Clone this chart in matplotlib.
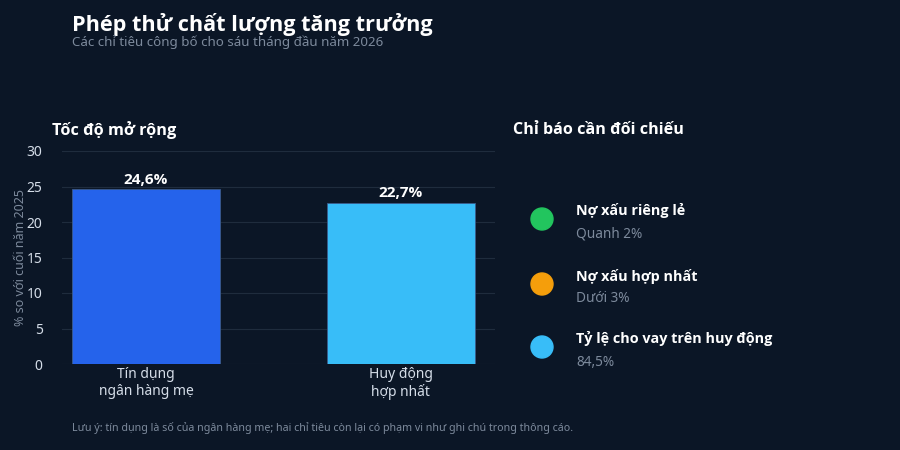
import matplotlib.pyplot as plt
from matplotlib.patches import Circle

plt.rcParams['font.family'] = ['Noto Sans', 'DejaVu Sans']
BOLD = ['Open Sans', 'DejaVu Sans']

categories = ["Tín dụng\nngân hàng mẹ", "Huy động\nhợp nhất"]
values = [24.6, 22.7]
value_labels = ["24,6%", "22,7%"]
bar_colors = ["#2563eb", "#38bdf8"]
yticks = [0, 5, 10, 15, 20, 25, 30]

ind_names = ["Nợ xấu riêng lẻ", "Nợ xấu hợp nhất", "Tỷ lệ cho vay trên huy động"]
ind_values = ["Quanh 2%", "Dưới 3%", "84,5%"]
ind_colors = ["#22c55e", "#f59e0b", "#38bdf8"]

bg = "#0b1626"
grid = "#1f2c3d"
muted = "#7d8a9c"

fig = plt.figure(figsize=(9, 4.5), dpi=100, facecolor=bg)

# bar panel
ax = fig.add_axes([62 / 900, 1 - 364 / 450, 433 / 900, 213 / 450], facecolor=bg)
x = list(range(len(categories)))
ax.bar(x, values, width=0.58, color=bar_colors, edgecolor="#3b5b8c", linewidth=0.6, zorder=3)
for xi, v, lab in zip(x, values, value_labels):
    ax.text(xi, v + 0.4, lab, ha="center", va="bottom", color="white",
            fontsize=11, fontweight="bold", family=BOLD, zorder=4)
ax.set_xlim(-0.33, 1.37)
ax.set_ylim(0, 30)
ax.set_yticks(yticks)
ax.set_xticks(x)
ax.set_xticklabels(categories)
ax.grid(axis="y", color=grid, linewidth=0.8, zorder=0)
for s in ax.spines.values():
    s.set_visible(False)
ax.tick_params(axis="both", length=0, colors="#d5dde8", labelsize=10)
ax.tick_params(axis="y", pad=14)
ax.tick_params(axis="x", pad=2)
ax.set_ylabel("% so với cuối năm 2025", color=muted, fontsize=9, labelpad=0)

# titles
fig.text(72 / 900, 1 - 24 / 450, "Phép thử chất lượng tăng trưởng", color="white",
         fontsize=15.6, fontweight="bold", family=BOLD, va="center", ha="left")
fig.text(72 / 900, 1 - 42 / 450, "Các chỉ tiêu công bố cho sáu tháng đầu năm 2026", color=muted,
         fontsize=9.6, va="center", ha="left")
fig.text(52 / 900, 1 - 130 / 450, "Tốc độ mở rộng", color="white",
         fontsize=11.7, fontweight="bold", family=BOLD, va="center", ha="left")
fig.text(513 / 900, 1 - 130 / 450, "Chỉ báo cần đối chiếu", color="white",
         fontsize=11.6, fontweight="bold", family=BOLD, va="center", ha="left")

# indicator panel
ax2 = fig.add_axes([0, 0, 1, 1], facecolor="none")
ax2.set_xlim(0, 900)
ax2.set_ylim(450, 0)
ax2.axis("off")
row_y = [219, 284, 347]
for yy, name, val, c in zip(row_y, ind_names, ind_values, ind_colors):
    ax2.add_patch(Circle((542, yy), 11, color=c))
    ax2.text(576, yy - 8, name, color="white", fontsize=10.4, fontweight="bold",
             family=BOLD, va="center", ha="left")
    ax2.text(576, yy + 15, val, color=muted, fontsize=9.8, va="center", ha="left")

fig.text(72 / 900, 1 - 428 / 450,
         "Lưu ý: tín dụng là số của ngân hàng mẹ; hai chỉ tiêu còn lại có phạm vi như ghi chú trong thông cáo.",
         color=muted, fontsize=7.7, va="center", ha="left")

fig.savefig("out.png", dpi=100, facecolor=bg)
